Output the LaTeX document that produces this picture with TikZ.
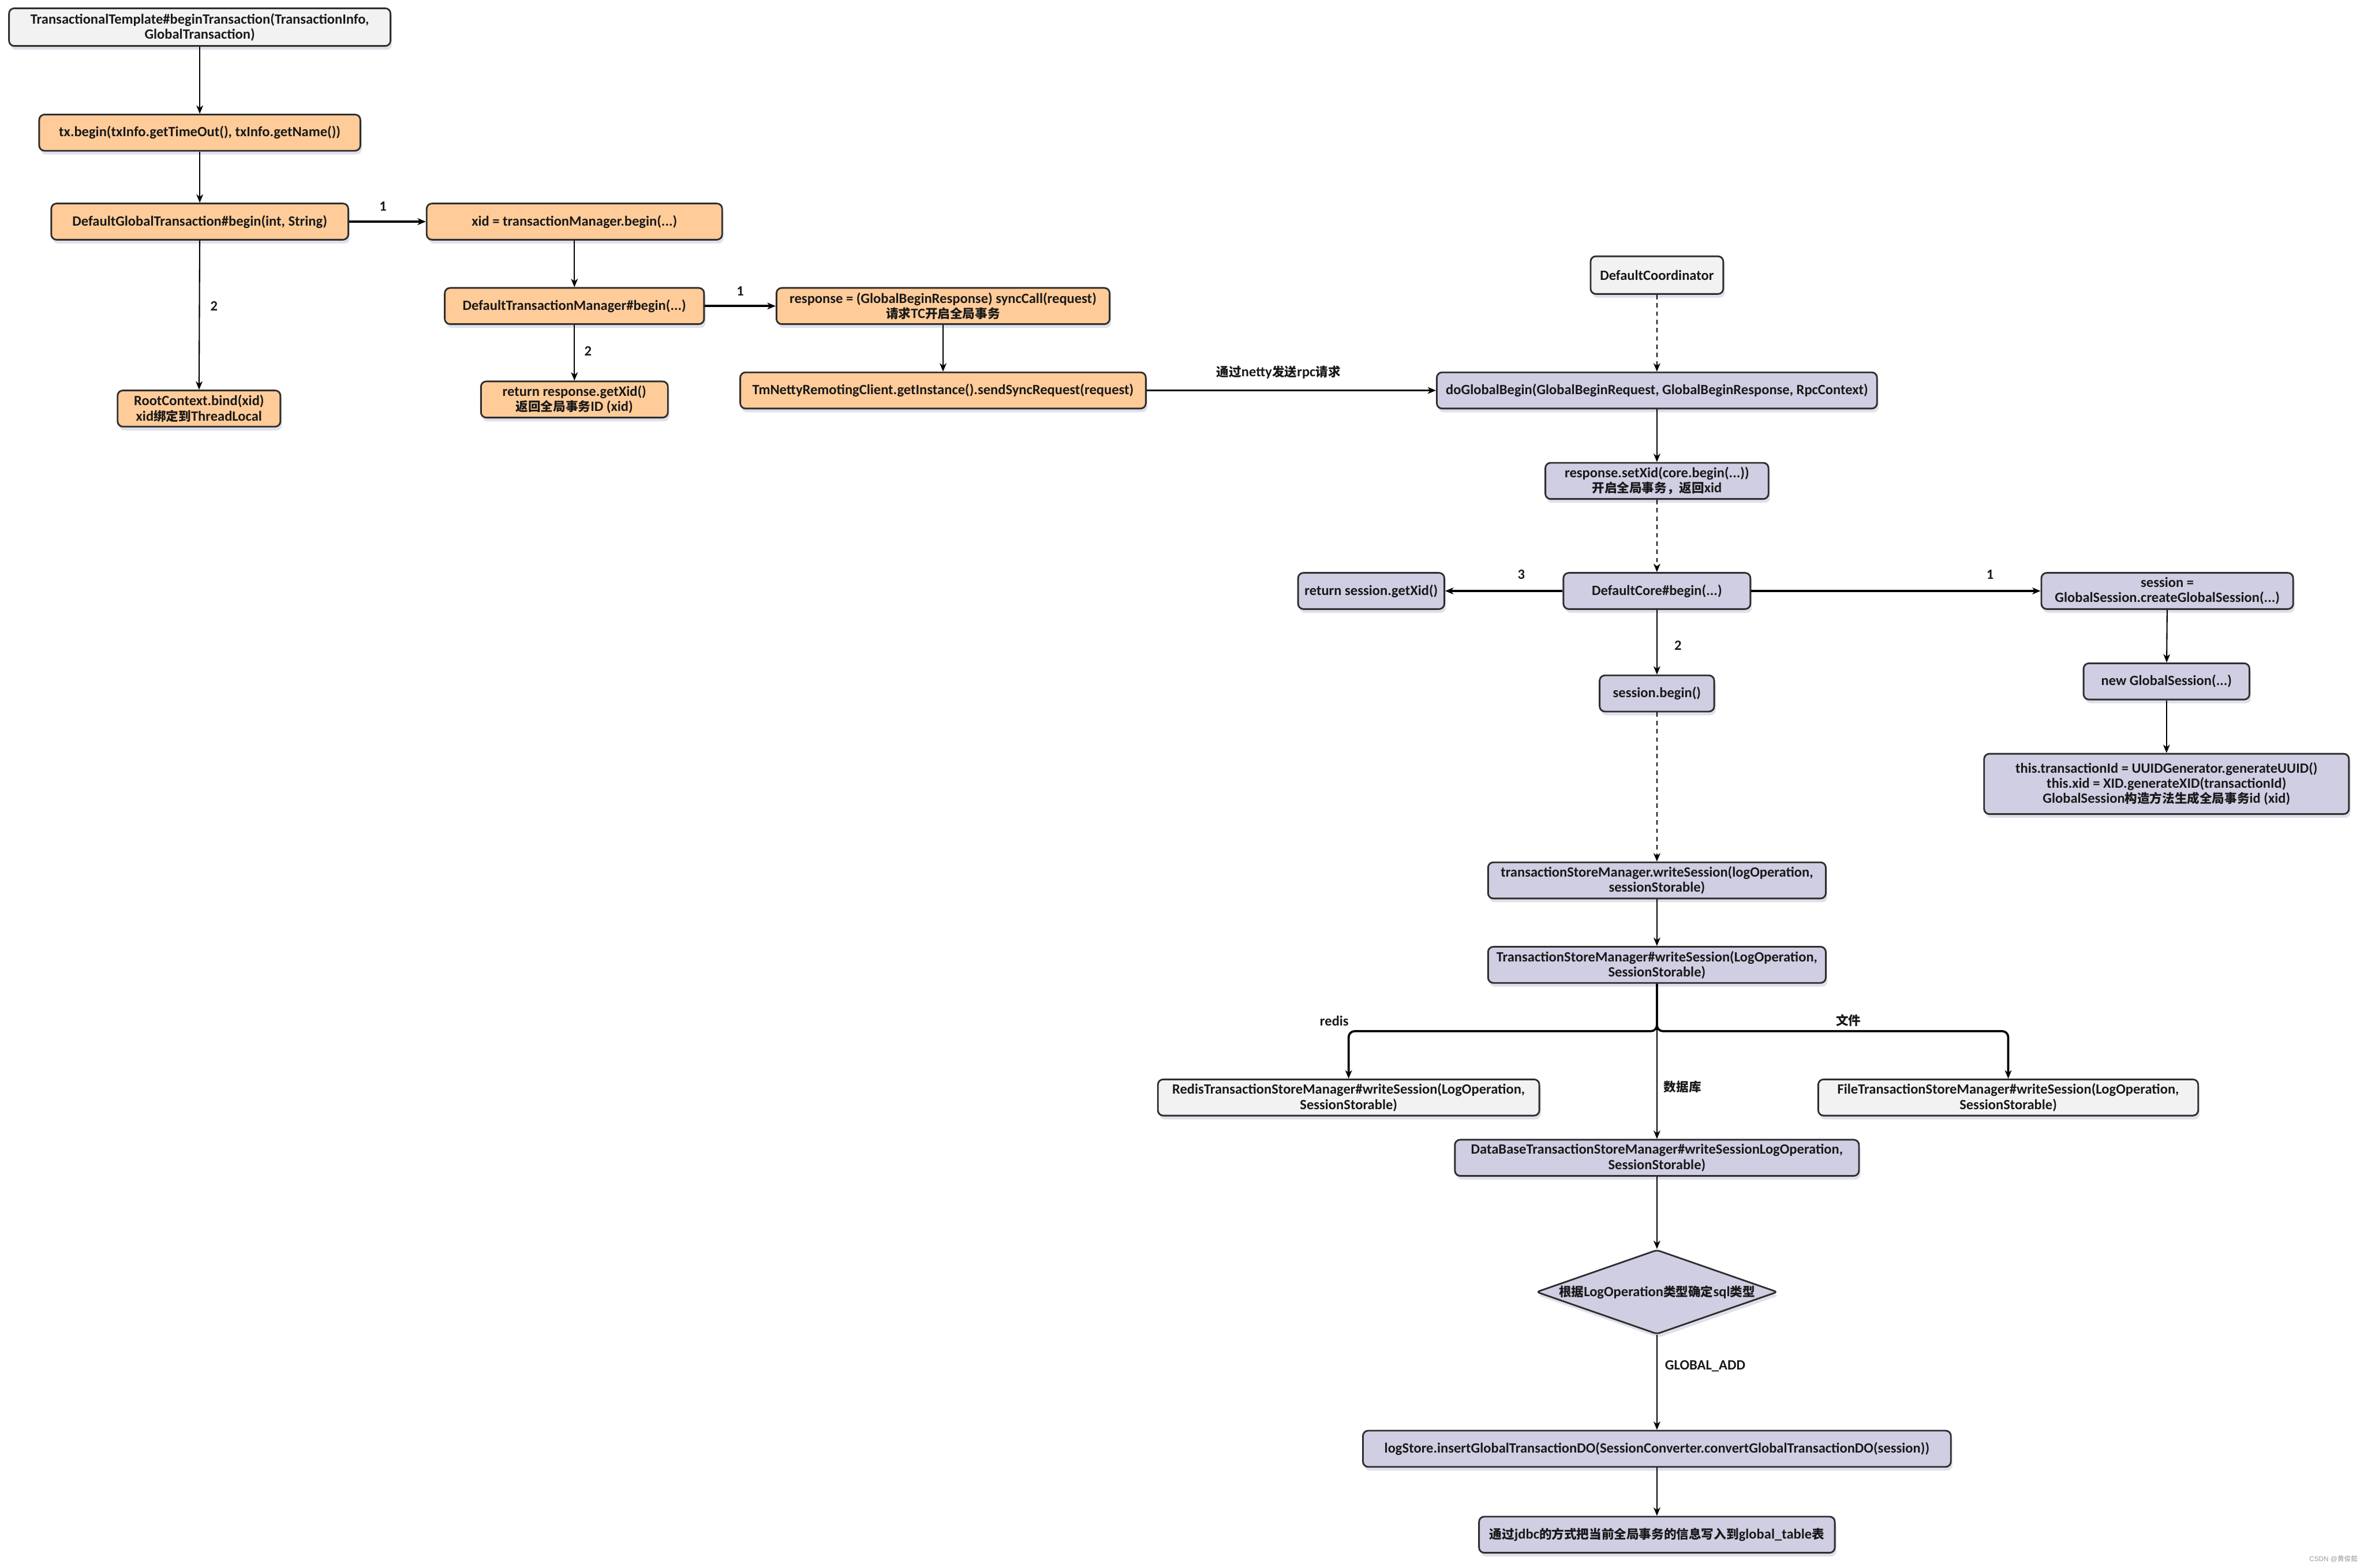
\documentclass[tikz,border=0pt]{standalone}
\usepackage{fontspec}
\setmainfont{Carlito}
\newfontfamily\cjk{Noto Sans CJK SC}[Scale=0.88]
\newfontfamily\wmfont{Liberation Sans}
\newfontfamily\wmcjk{Noto Sans CJK SC}
\usetikzlibrary{arrows.meta,shapes.geometric,shadows}
\definecolor{orangefill}{HTML}{FFCC99}
\definecolor{purplefill}{HTML}{D0CEE2}
\definecolor{grayfill}{HTML}{F2F2F2}
\definecolor{edgecol}{HTML}{2E2E2E}
\definecolor{shadowcol}{HTML}{A3A5C2}
\newcommand\zh[1]{{\cjk #1}}

\begin{document}
\begin{tikzpicture}[x=1pt,y=-1pt,
  txt/.style={font=\bfseries\fontsize{9.4}{10}\selectfont, text=black!90},
  box/.style={txt, draw=edgecol, line width=1.1pt, rounded corners=3.5pt,
    align=center, inner sep=1pt,
    drop shadow={shadow xshift=1pt, shadow yshift=-2.5pt, opacity=0.35, fill=shadowcol}},
  obox/.style={box, fill=orangefill},
  pbox/.style={box, fill=purplefill},
  gbox/.style={box, fill=grayfill},
  flow/.style={draw=black, line width=0.8pt, -{Stealth[length=5.5pt,width=4.5pt,inset=1.6pt]}},
  flowthick/.style={flow, line width=1.4pt},
  flowdash/.style={flow, dash pattern=on 3pt off 2.5pt},
  lab/.style={txt, inner sep=0pt},
]
\useasboundingbox (0,0) rectangle (1568,1040);

% ---- client side (TM) ----
\node[gbox, minimum width=253, minimum height=25] (A) at (132.5,18) {TransactionalTemplate\#beginTransaction(TransactionInfo,\\GlobalTransaction)};
\node[obox, minimum width=213, minimum height=24] (B) at (132.5,88) {tx.begin(txInfo.getTimeOut(), txInfo.getName())};
\node[obox, minimum width=197, minimum height=24] (C) at (132.5,147) {DefaultGlobalTransaction\#begin(int, String)};
\node[obox, minimum width=196, minimum height=24] (D) at (381,147) {xid = transactionManager.begin(...)};
\node[obox, minimum width=172, minimum height=24] (E) at (381,203) {DefaultTransactionManager\#begin(...)};
\node[obox, minimum width=221, minimum height=24] (F) at (625.5,203) {response = (GlobalBeginResponse) syncCall(request)\\\zh{请求}TC\zh{开启全局事务}};
\node[obox, minimum width=269, minimum height=24] (G) at (625.5,259) {TmNettyRemotingClient.getInstance().sendSyncRequest(request)};
\node[obox, minimum width=108, minimum height=24] (H) at (132,271) {RootContext.bind(xid)\\xid\zh{绑定到}ThreadLocal};
\node[obox, minimum width=124, minimum height=24] (I) at (381,265) {return response.getXid()\\\zh{返回全局事务}ID (xid)};

% ---- server side (TC) ----
\node[gbox, minimum width=88, minimum height=25] (K) at (1099,182.5) {DefaultCoordinator};
\node[pbox, minimum width=292, minimum height=24] (J) at (1099,259) {doGlobalBegin(GlobalBeginRequest, GlobalBeginResponse, RpcContext)};
\node[pbox, minimum width=148, minimum height=24] (L) at (1099,319) {response.setXid(core.begin(...))\\\zh{开启全局事务，返回}xid};
\node[pbox, minimum width=124, minimum height=24] (M) at (1099,392) {DefaultCore\#begin(...)};
\node[pbox, minimum width=97, minimum height=24] (N) at (909.5,392) {return session.getXid()};
\node[pbox, minimum width=167, minimum height=24] (O) at (1437.5,392) {session =\\GlobalSession.createGlobalSession(...)};
\node[pbox, minimum width=76, minimum height=24] (P) at (1099,460) {session.begin()};
\node[pbox, minimum width=110, minimum height=24] (Q) at (1437,452) {new GlobalSession(...)};
\node[pbox, minimum width=242, minimum height=40] (R) at (1437,520) {this.transactionId = UUIDGenerator.generateUUID()\\this.xid = XID.generateXID(transactionId)\\GlobalSession\zh{构造方法生成全局事务}id (xid)};
\node[pbox, minimum width=224, minimum height=24] (S) at (1099,584) {transactionStoreManager.writeSession(logOperation,\\sessionStorable)};
\node[pbox, minimum width=224, minimum height=24] (T) at (1099,640) {TransactionStoreManager\#writeSession(LogOperation,\\SessionStorable)};
\node[gbox, minimum width=253, minimum height=24] (U) at (894.5,728) {RedisTransactionStoreManager\#writeSession(LogOperation,\\SessionStorable)};
\node[gbox, minimum width=252, minimum height=24] (W) at (1332,728) {FileTransactionStoreManager\#writeSession(LogOperation,\\SessionStorable)};
\node[pbox, minimum width=268, minimum height=24] (V) at (1099,768) {DataBaseTransactionStoreManager\#writeSessionLogOperation,\\SessionStorable)};
\node[pbox, shape=diamond, rounded corners=2pt, minimum width=160, minimum height=56, inner sep=0pt] (X) at (1099,857) {};
\node[lab] (Xt) at (X.center) {\zh{根据}LogOperation\zh{类型确定}sql\zh{类型}};
\node[pbox, minimum width=390, minimum height=24] (Y) at (1099,961) {logStore.insertGlobalTransactionDO(SessionConverter.convertGlobalTransactionDO(session))};
\node[pbox, minimum width=236, minimum height=24] (Z) at (1099,1018) {\zh{通过}jdbc\zh{的方式把当前全局事务的信息写入到}global\_table\zh{表}};

% ---- connectors ----
\draw[flow] (A) -- (B);
\draw[flow] (B) -- (C);
\draw[flowthick] (C) -- (D);
\draw[flow] (D) -- (E);
\draw[flowthick] (E) -- (F);
\draw[flow] (F) -- (G);
\draw[flow] (C) -- (H);
\draw[flow] (E) -- (I);
\draw[flowthick] (G) -- (J);
\draw[flowdash] (K) -- (J);
\draw[flow] (J) -- (L);
\draw[flowdash] (L) -- (M);
\draw[flowthick] (M) -- (N);
\draw[flowthick] (M) -- (O);
\draw[flow] (M) -- (P);
\draw[flow] (O) -- (Q);
\draw[flow] (Q) -- (R);
\draw[flowdash] (P) -- (S);
\draw[flow] (S) -- (T);
\coordinate (fork) at (1099,684);
\draw[flowthick, rounded corners=4pt] (T.south) -- (fork) -| (U.north);
\draw[flowthick, rounded corners=4pt] (T.south) -- (fork) -| (W.north);
\draw[flow] (T) -- (V);
\draw[flow] (V) -- (X);
\draw[flow] (X) -- (Y);
\draw[flow] (Y) -- (Z);

% ---- connector labels ----
\node[lab] (l1) at (254,137) {1};
\node[lab] (l2) at (491,193) {1};
\node[lab] (l3) at (142,203) {2};
\node[lab] (l4) at (390,233) {2};
\node[lab] (l5) at (848,247) {\zh{通过}netty\zh{发送}rpc\zh{请求}};
\node[lab] (l6) at (1009,381) {3};
\node[lab] (l7) at (1320,381) {1};
\node[lab] (l8) at (1113,428) {2};
\node[lab] (l9) at (885,677) {redis};
\node[lab] (l10) at (1226,677) {\zh{文件}};
\node[lab] (l11) at (1116,721) {\zh{数据库}};
\node[lab] (l12) at (1131,906) {GLOBAL\_ADD};

% ---- watermark ----
\node[anchor=east, inner sep=0pt, text=black!40, font=\wmfont\fontsize{4.5}{5}\selectfont] (wm) at (1564,1034) {CSDN @{\wmcjk 黄俊懿}};
\end{tikzpicture}
\end{document}
